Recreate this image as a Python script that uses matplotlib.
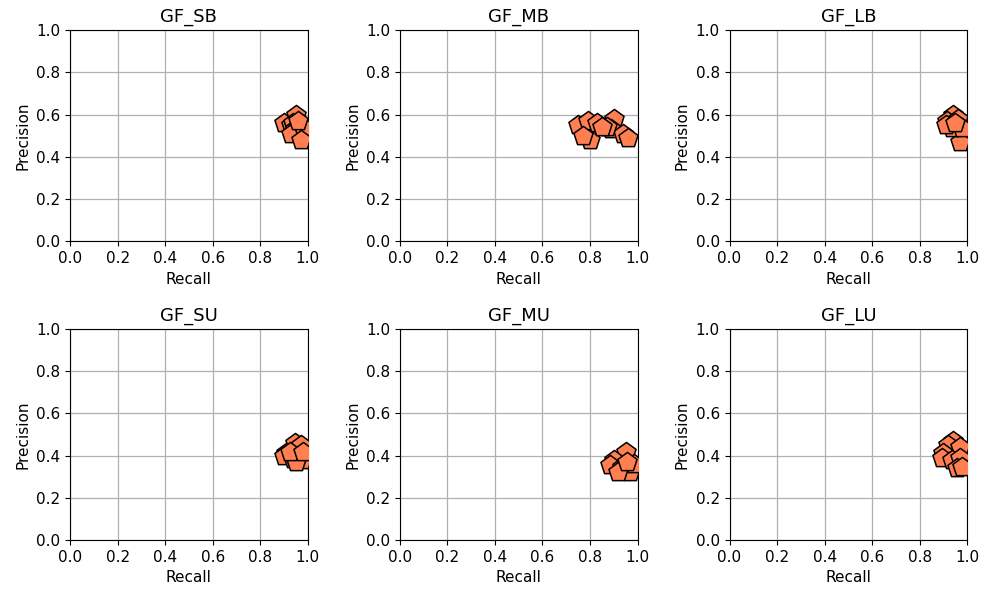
import matplotlib
matplotlib.use("Agg")
from matplotlib import pyplot as plt

titles = ["GF_SB", "GF_MB", "GF_LB", "GF_SU", "GF_MU", "GF_LU"]

recall_sb = [0.90, 0.95, 0.93, 0.94, 0.945, 0.93, 0.98, 0.97, 0.96]
precision_sb = [0.56, 0.60, 0.55, 0.56, 0.53, 0.51, 0.54, 0.48, 0.57]

recall_mb = [0.75, 0.79, 0.83, 0.90, 0.80, 0.77, 0.89, 0.94, 0.96, 0.87, 0.85]
precision_mb = [0.55, 0.57, 0.56, 0.58, 0.48, 0.50, 0.53, 0.51, 0.49, 0.54, 0.54]

recall_lb = [0.94, 0.915, 0.96, 0.97, 0.935, 0.98, 0.91, 0.95]
precision_lb = [0.60, 0.57, 0.58, 0.47, 0.535, 0.535, 0.55, 0.56]

recall_su = [0.945, 0.97, 0.91, 0.90, 0.94, 0.975, 0.95, 0.925, 0.98]
precision_su = [0.46, 0.45, 0.41, 0.40, 0.385, 0.38, 0.37, 0.415, 0.415]

recall_mu = [0.95, 0.90, 0.885, 0.935, 0.97, 0.92, 0.985, 0.955]
precision_mu = [0.415, 0.377, 0.354, 0.345, 0.32, 0.32, 0.36, 0.37]

recall_lu = [0.94, 0.92, 0.97, 0.90, 0.895, 0.935, 0.97, 0.955, 0.98]
precision_lu = [0.47, 0.45, 0.44, 0.41, 0.39, 0.38, 0.39, 0.34, 0.345]

recalls = [recall_sb, recall_mb, recall_lb, recall_su, recall_mu, recall_lu]
precisions = [precision_sb, precision_mb, precision_lb,
              precision_su, precision_mu, precision_lu]

plt.rcParams["font.size"] = 11

fig, axes = plt.subplots(2, 3, figsize=(9.89, 5.89), dpi=100)
fig.subplots_adjust(left=0.0708, right=0.978, top=0.949, bottom=0.083,
                    wspace=0.387, hspace=0.413)

for ax, title, rec, prec in zip(axes.flat, titles, recalls, precisions):
    ax.scatter(rec, prec, marker="p", s=210, color="coral",
               edgecolors="black", linewidths=1.1, zorder=3)
    ax.set_xlim(0, 1)
    ax.set_ylim(0, 1)
    ax.set_xticks([0.0, 0.2, 0.4, 0.6, 0.8, 1.0])
    ax.set_yticks([0.0, 0.2, 0.4, 0.6, 0.8, 1.0])
    ax.grid(True, color="#b0b0b0", linewidth=0.9)
    ax.set_axisbelow(True)
    ax.set_title(title, fontsize=13)
    ax.set_xlabel("Recall")
    ax.set_ylabel("Precision")

fig.savefig("out.png", dpi=100)
